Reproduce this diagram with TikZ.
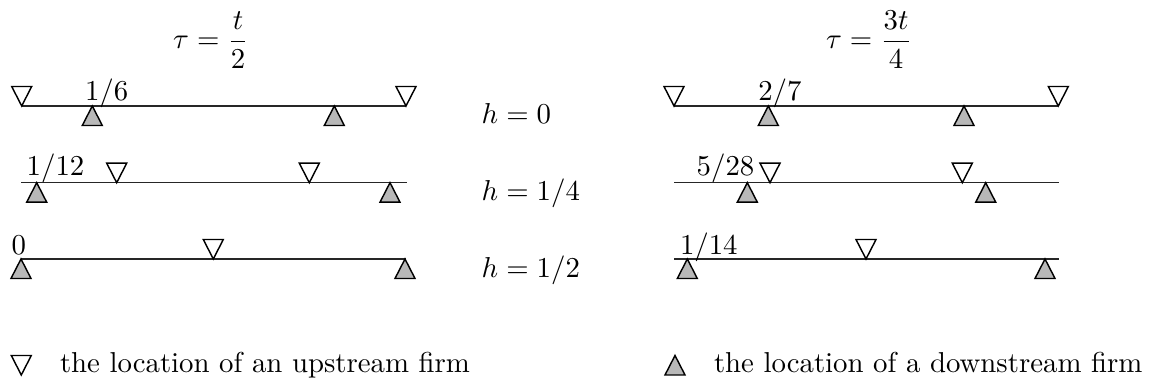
\documentclass[tikz,border=0pt]{standalone}
\usepackage{amsmath}
\begin{document}
\begin{tikzpicture}[x=0.3472pt,y=-0.3472pt,
  firmline/.style={line width=0.55pt, draw=black!85},
  tri/.style={line width=0.5pt, line join=miter},
  lbl/.style={anchor=base west, inner sep=0pt, outer sep=0pt},
  upfirm/.pic={\draw[tri, fill=white] (0,0) -- (-10,-19.5) -- (10,-19.5) -- cycle;},
  downfirm/.pic={\draw[tri, fill=black!28] (0,0) -- (-10,19.5) -- (10,19.5) -- cycle;}
]
\useasboundingbox (0,0) rectangle (1158,387);

% headers
\node[anchor=base, inner sep=0pt] (tl) at (211,48.9) {$\tau=\dfrac{t}{2}$};
\node[anchor=base, inner sep=0pt] (tr) at (869,48.9) {$\tau=\dfrac{3t}{4}$};

% h labels
\node[lbl] (h0) at (481.7,124) {$h=0$};
\node[lbl] (h1) at (481.7,200.7) {$h=1/4$};
\node[lbl] (h2) at (481.7,277.3) {$h=1/2$};

% left group lines
\coordinate (la1) at (21.7,106);   \coordinate (lb1) at (406,106);
\coordinate (la2) at (21,182.7);   \coordinate (lb2) at (406.7,182.7);
\coordinate (la3) at (21,259);     \coordinate (lb3) at (406,259);
\draw[firmline] (la1) -- (lb1);
\draw[firmline] (la2) -- (lb2);
\draw[firmline] (la3) -- (lb3);

% right group lines
\coordinate (ra1) at (674,106);    \coordinate (rb1) at (1058.3,106);
\coordinate (ra2) at (674,182.7);  \coordinate (rb2) at (1059.3,182.7);
\coordinate (ra3) at (674,259);    \coordinate (rb3) at (1059.3,259);
\draw[firmline] (ra1) -- (rb1);
\draw[firmline] (ra2) -- (rb2);
\draw[firmline] (ra3) -- (rb3);

% position labels
\node[lbl] (p1) at (85,100.5) {$1/6$};
\node[lbl] (p2) at (26.7,176) {$1/12$};
\node[lbl] (p3) at (11.7,254.3) {$0$};
\node[lbl] (p4) at (758.3,100.5) {$2/7$};
\node[lbl] (p5) at (696.7,176) {$5/28$};
\node[lbl] (p6) at (680,254.3) {$1/14$};

% left group firms
\pic at (21.7,106) {upfirm};
\pic at (406,106) {upfirm};
\pic at (92.3,106) {downfirm};
\pic at (334.3,106) {downfirm};

\pic at (116.7,182.7) {upfirm};
\pic at (309.3,182.7) {upfirm};
\pic at (36.7,182.7) {downfirm};
\pic at (390,182.7) {downfirm};

\pic at (213.3,259) {upfirm};
\pic at (21,259) {downfirm};
\pic at (405,259) {downfirm};

% right group firms
\pic at (674,106) {upfirm};
\pic at (1058.3,106) {upfirm};
\pic at (768.3,106) {downfirm};
\pic at (964,106) {downfirm};

\pic at (770,182.7) {upfirm};
\pic at (962.3,182.7) {upfirm};
\pic at (747.3,182.7) {downfirm};
\pic at (985.7,182.7) {downfirm};

\pic at (866,259) {upfirm};
\pic at (687.3,259) {downfirm};
\pic at (1045,259) {downfirm};

% legend
\pic at (21.3,375) {upfirm};
\node[lbl] (legu) at (60,373) {the location of an upstream firm};
\pic at (675,355.5) {downfirm};
\node[lbl] (legd) at (714,373) {the location of a downstream firm};
\end{tikzpicture}
\end{document}
